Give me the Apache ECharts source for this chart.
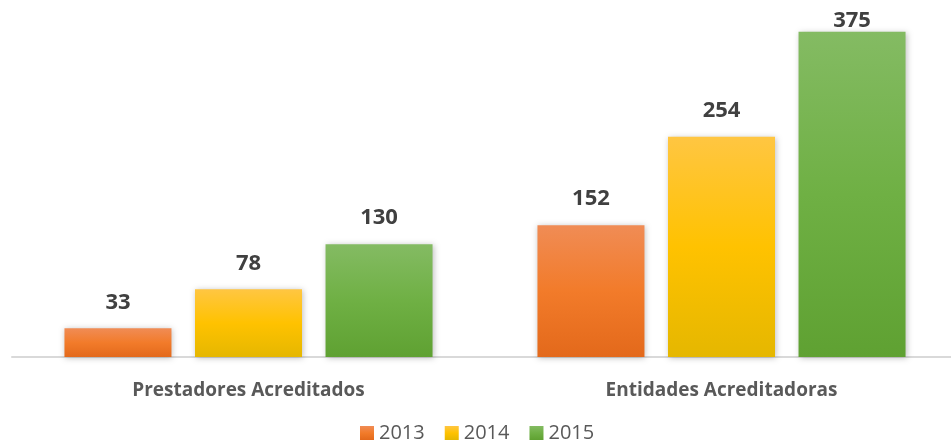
<!DOCTYPE html>
<html>
<head>
<meta charset="utf-8">
<script src="https://cdn.jsdelivr.net/npm/echarts@6/dist/echarts.min.js"></script>
<style>
  html, body { margin: 0; padding: 0; background: #fff; overflow: hidden; }
  /* a little wider than the window so the right category lines up with the original */
  #chart { width: 959px; height: 442px; }
</style>
</head>
<body>
<div id="chart"></div>
<script>
const categories = ["Prestadores Acreditados", "Entidades Acreditadoras"];
const years = ["2013", "2014", "2015"];
const values2013 = [33, 152];
const values2014 = [78, 254];
const values2015 = [130, 375];

const myChart = echarts.init(document.getElementById("chart"));

const grad = (top, mid, bottom) =>
  new echarts.graphic.LinearGradient(0, 0, 0, 1, [
    { offset: 0, color: top },
    { offset: 0.5, color: mid },
    { offset: 1, color: bottom },
  ]);

const colors = [
  grad("#f08c55", "#f27b2a", "#e3691b"),
  grad("#ffc642", "#ffc200", "#e5b700"),
  grad("#84bb63", "#6fb044", "#5fa132"),
];

const makeSeries = (name, data, i) => ({
  name: name,
  type: "bar",
  // the tallest label sits squeezed against the top of the chart, as in the original
  data: data.map((v) => (v === 375 ? { value: v, label: { distance: 0 } } : v)),
  barWidth: 107,
  barGap: "22%",
  itemStyle: {
    color: colors[i],
    shadowColor: "rgba(0,0,0,0.25)",
    shadowBlur: 6,
    shadowOffsetX: 1,
    shadowOffsetY: 1,
  },
  label: {
    show: true,
    position: "top",
    distance: 15,
    color: "#404040",
    fontSize: 22,
    fontWeight: "bold",
    fontFamily: "Open Sans",
  },
});

const option = {
  animation: false,
  grid: { left: 12, right: 1, top: 10, bottom: 85 },
  legend: {
    top: 423,
    left: 360,
    padding: 0,
    itemWidth: 14,
    itemHeight: 14,
    itemGap: 20,
    icon: "rect",
    textStyle: { color: "#595959", fontSize: 20, fontFamily: "Open Sans" },
    data: years,
  },
  xAxis: {
    type: "category",
    data: categories,
    axisLine: { lineStyle: { color: "#d9d9d9", width: 2 } },
    axisTick: { show: false },
    axisLabel: {
      color: "#595959",
      fontSize: 19,
      fontWeight: "bold",
      fontFamily: "Open Sans",
      margin: 24,
    },
  },
  yAxis: {
    type: "value",
    min: 0,
    max: 400,
    show: false,
  },
  series: [
    makeSeries(years[0], values2013, 0),
    makeSeries(years[1], values2014, 1),
    makeSeries(years[2], values2015, 2),
  ],
};

myChart.setOption(option);
</script>
</body>
</html>
